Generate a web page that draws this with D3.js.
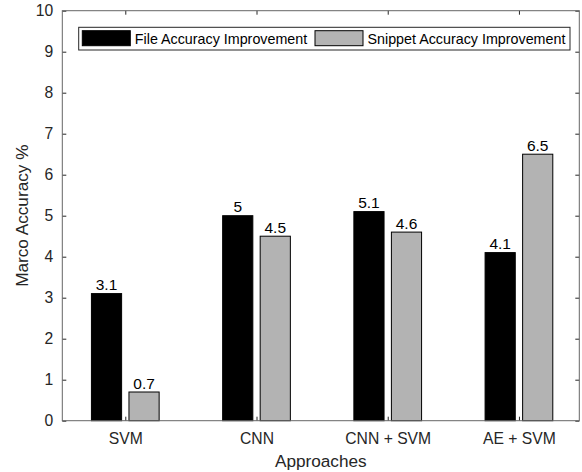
<!DOCTYPE html>
<html>
<head>
<meta charset="utf-8">
<script src="https://cdn.jsdelivr.net/npm/d3@7"></script>
<style>
  body { margin: 0; background: #fff; }
  text { font-family: "Liberation Sans", Arial, Helvetica, sans-serif; }
</style>
</head>
<body>
<script>
// data
var approaches = ["SVM", "CNN", "CNN + SVM", "AE + SVM"];
var fileImprovement = [3.1, 5, 5.1, 4.1];
var snippetImprovement = [0.7, 4.5, 4.6, 6.5];
var seriesNames = ["File Accuracy Improvement", "Snippet Accuracy Improvement"];
var yTicks = [0, 1, 2, 3, 4, 5, 6, 7, 8, 9, 10];

var width = 582, height = 472;
var plotLeft = 62.3, plotRight = 579.3, plotTop = 10.7, plotBottom = 420.7;

var svg = d3.select("body").append("svg")
    .attr("width", width)
    .attr("height", height);

var x = d3.scaleLinear().domain([0.52, 4.46]).range([plotLeft, plotRight]);
var y = d3.scaleLinear().domain([0, 10]).range([plotBottom, plotTop]);

var barW = 0.23, offset = 0.143;
var series = [
  {name: seriesNames[0], values: fileImprovement, fill: "#000000", dx: -offset},
  {name: seriesNames[1], values: snippetImprovement, fill: "#b3b3b3", dx: offset}
];

// bars
series.forEach(function(s) {
  var g = svg.append("g");
  g.selectAll("rect")
    .data(s.values)
    .enter().append("rect")
    .attr("x", function(d, i) { return x(i + 1 + s.dx - barW / 2); })
    .attr("width", x(1 + barW) - x(1))
    .attr("y", function(d) { return y(d); })
    .attr("height", function(d) { return y(0) - y(d); })
    .attr("fill", s.fill)
    .attr("stroke", "#000")
    .attr("stroke-width", 1);

  g.selectAll("text")
    .data(s.values)
    .enter().append("text")
    .attr("x", function(d, i) { return x(i + 1 + s.dx); })
    .attr("y", function(d) { return y(d) - 3.5; })
    .attr("text-anchor", "middle")
    .attr("font-size", 15.5)
    .attr("fill", "#000")
    .text(function(d) { return d; });
});

// axes
var xAxis = svg.append("g")
    .attr("transform", "translate(0," + plotBottom + ")")
    .call(d3.axisBottom(x)
      .tickValues([1, 2, 3, 4])
      .tickFormat(function(d) { return approaches[d - 1]; })
      .tickSizeInner(-4).tickSizeOuter(0).tickPadding(12));

var xTop = svg.append("g")
    .attr("transform", "translate(0," + plotTop + ")")
    .call(d3.axisTop(x).tickValues([1, 2, 3, 4]).tickFormat("")
      .tickSizeInner(-4).tickSizeOuter(0));

var yAxis = svg.append("g")
    .attr("transform", "translate(" + plotLeft + ",0)")
    .call(d3.axisLeft(y).tickValues(yTicks).tickFormat(d3.format("d"))
      .tickSizeInner(-4).tickSizeOuter(0).tickPadding(9));

var yRight = svg.append("g")
    .attr("transform", "translate(" + plotRight + ",0)")
    .call(d3.axisRight(y).tickValues(yTicks).tickFormat("")
      .tickSizeInner(-4).tickSizeOuter(0));

[xAxis, xTop, yAxis, yRight].forEach(function(g) {
  g.select(".domain").remove();
  g.selectAll(".tick line").attr("stroke", "#262626");
  g.selectAll(".tick text")
    .attr("fill", "#262626")
    .attr("font-size", 15.7)
    .attr("font-family", "'Liberation Sans', Arial, sans-serif");
});

// frame
svg.append("rect")
    .attr("x", plotLeft).attr("y", plotTop)
    .attr("width", plotRight - plotLeft).attr("height", plotBottom - plotTop)
    .attr("fill", "none")
    .attr("stroke", "#666")
    .attr("stroke-width", 1);

// axis titles
svg.append("text")
    .attr("x", (plotLeft + plotRight) / 2).attr("y", 467)
    .attr("text-anchor", "middle")
    .attr("font-size", 17.2)
    .attr("fill", "#262626")
    .text("Approaches");

svg.append("text")
    .attr("transform", "translate(27.5," + ((plotTop + plotBottom) / 2) + ") rotate(-90)")
    .attr("text-anchor", "middle")
    .attr("font-size", 17.2)
    .attr("fill", "#262626")
    .text("Marco Accuracy %");

// legend
var legend = svg.append("g");
legend.append("rect")
    .attr("x", 78.7).attr("y", 27.3)
    .attr("width", 570 - 78.7).attr("height", 50 - 27.3)
    .attr("fill", "#fff")
    .attr("stroke", "#262626")
    .attr("stroke-width", 1);

var legendX = [82.3, 315];
series.forEach(function(s, i) {
  legend.append("rect")
    .attr("x", legendX[i]).attr("y", 30.7)
    .attr("width", 48).attr("height", 15)
    .attr("fill", s.fill)
    .attr("stroke", "#000")
    .attr("stroke-width", 1);
  legend.append("text")
    .attr("x", legendX[i] + 52.5).attr("y", 43.5)
    .attr("font-size", 14.3)
    .attr("fill", "#000")
    .text(s.name);
});
</script>
</body>
</html>
